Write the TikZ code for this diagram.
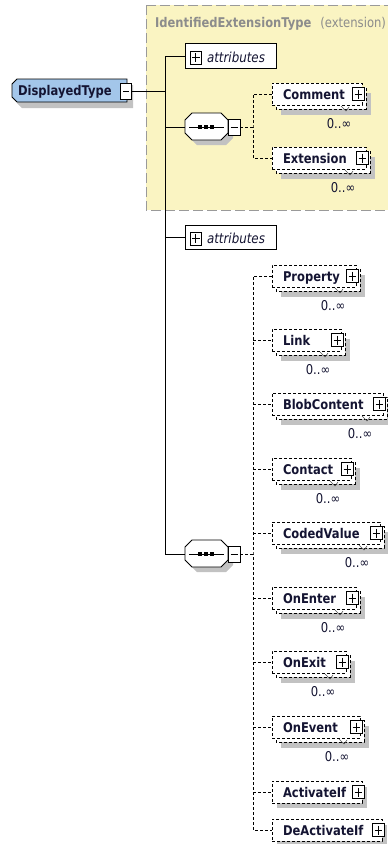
\documentclass[tikz,border=0pt]{standalone}
\usepackage{fontspec}
\setmainfont{DejaVu Sans}[FakeStretch=0.86]
\definecolor{ybg}{HTML}{FAF4C2}
\definecolor{yframe}{HTML}{9A9A9A}
\definecolor{shgray}{HTML}{C2C2C2}
\definecolor{dtblue}{HTML}{A3C6EA}
\definecolor{ink}{HTML}{141432}
\definecolor{titlegray}{HTML}{8C8C8C}
\definecolor{tickgray}{HTML}{555555}
\tikzset{
  every node/.style={inner sep=0pt, outer sep=0pt},
  ebline/.style={draw=black, fill=white, line width=0.8pt, dash pattern=on 3pt off 2pt},
  ebox/.style={ebline, rectangle, anchor=west},
  abox/.style={draw=black, fill=white, line width=0.9pt, rectangle, anchor=west},
  dconn/.style={draw=black, line width=0.8pt, dash pattern=on 3pt off 2pt},
  sconn/.style={draw=black, line width=1pt},
  ename/.style={font=\bfseries\fontsize{13.4}{15}\selectfont, text=ink, anchor=base west},
  aname/.style={font=\itshape\fontsize{13.8}{15}\selectfont, text=ink, anchor=base west},
  multlab/.style={font=\fontsize{13.5}{15}\selectfont, text=ink, anchor=base},
  pbox/.style={draw=black, fill=white, line width=0.8pt},
}
% plus box: left x, centre y
\newcommand\plusat[2]{%
  \draw[pbox] (#1,#2-6.5) rectangle (#1+11.5,#2+6.5);
  \draw[line width=0.8pt] (#1+2,#2) -- (#1+9.5,#2) (#1+5.75,#2-4.5) -- (#1+5.75,#2+4.5);
}
% element with multiplicity 0..inf : name, centre y, right edge, label
\newcommand\elemM[4]{%
  \fill[shgray] (281,#2-1) rectangle (#3+9,#2+21);
  \draw[ebline] (276,#2-7) rectangle (#3+4,#2+15);
  \node[ebox, minimum width=#3-272, minimum height=22] (#1) at (272,#2) {};
  \node[ename] at (283,#2+5) {#4};
  \plusat{#3-9.5}{#2}
  \draw[line width=0.6pt, draw=tickgray] (#3-21,#2+12) -- (#3-16,#2+17) -- (#3-13,#2+13);
  \node[multlab] at (#3-23,#2+34.5) {0..∞};
}
% single element : name, centre y, right edge, label
\newcommand\elemS[4]{%
  \fill[shgray] (277,#2-5) rectangle (#3+5,#2+16);
  \node[ebox, minimum width=#3-272, minimum height=22] (#1) at (272,#2) {};
  \node[ename] at (283,#2+5) {#4};
  \plusat{#3-9.5}{#2}
}
% sequence compositor : name, centre y
\newcommand\seqnode[2]{%
  \fill[shgray] (197,#2-9) -- (226,#2-9) -- (233,#2-2) -- (233,#2+11) -- (226,#2+18) -- (197,#2+18) -- (190,#2+11) -- (190,#2-2) -- cycle;
  \draw[line width=0.8pt, fill=white] (192,#2-14) -- (221,#2-14) -- (228,#2-7) -- (228,#2+6) -- (221,#2+13) -- (192,#2+13) -- (185,#2+6) -- (185,#2-7) -- cycle;
  \coordinate (#1) at (185,#2);
  \draw[line width=0.8pt] (189,#2) -- (224,#2);
  \fill (198.2,#2-1.8) rectangle (201.8,#2+1.8);
  \fill (204.2,#2-1.8) rectangle (207.8,#2+1.8);
  \fill (210.2,#2-1.8) rectangle (213.8,#2+1.8);
  \draw[pbox] (228,#2-8) rectangle (240,#2+8);
  \draw[line width=0.8pt] (230.5,#2) -- (237.5,#2);
  \coordinate (#1m) at (240,#2);
}
\begin{document}
\begin{tikzpicture}[x=1pt,y=-1pt]
\useasboundingbox (0,0) rectangle (388,844);
\clip (0,0) rectangle (388,844);
\fill[white] (0,0) rectangle (388,844);
% extension frame
\draw[fill=ybg, draw=yframe, line width=1pt, dash pattern=on 10pt off 4pt] (146,5) rectangle (394,210);
\node[anchor=base west, text=titlegray, font=\bfseries\fontsize{13.4}{15}\selectfont] (title) at (155,27) {IdentifiedExtensionType};
\node[anchor=base east, text=titlegray, font=\fontsize{13.5}{15}\selectfont] (titleb) at (386,27) {(extension)};
% DisplayedType
\fill[shgray] (22,85) -- (133,85) -- (133,108) -- (22,108) -- (17,103) -- (17,90) -- cycle;
\draw[line width=0.9pt, fill=dtblue] (17,79) -- (127,79) -- (127,102) -- (17,102) -- (12,97) -- (12,84) -- cycle;
\node[ename] (dt) at (18,95.5) {DisplayedType};
\draw[pbox] (120.5,83) rectangle (131.5,99.5);
\draw[line width=0.8pt] (123,91) -- (129,91);
\coordinate (dtm) at (131.5,91);
\coordinate (tk) at (165,0);
% attributes
\node[abox, minimum width=91, minimum height=25] (attr1) at (185,56) {};
\plusat{190}{57.5}
\node[aname] at (207,62) {attributes};
\node[abox, minimum width=91, minimum height=24] (attr2) at (185,237) {};
\plusat{190}{238.5}
\node[aname] at (207,243) {attributes};
% sequences
\seqnode{seq1}{127}
\seqnode{seq2}{554}
% trunk
\draw[sconn] (dtm) -- (dtm -| tk);
\draw[sconn] (attr1.west -| tk) -- (seq2 -| tk);
\draw[sconn] (attr1.west -| tk) -- (attr1.west);
\draw[sconn] (attr2.west -| tk) -- (attr2.west);
\draw[sconn] (seq1 -| tk) -- (seq1);
\draw[sconn] (seq2 -| tk) -- (seq2);
% elements group 1
\elemM{comment}{94}{362}{Comment}
\elemM{extension}{158}{366}{Extension}
\coordinate (bus1) at (253,127);
\draw[dconn] (seq1m) -- (bus1);
\draw[dconn] (comment.west) -| (bus1) |- (extension.west);
% elements group 2
\elemM{property}{276}{356}{Property}
\elemM{link}{340}{341}{Link}
\elemM{blob}{404}{383}{BlobContent}
\elemM{contact}{469}{351}{Contact}
\elemM{coded}{533}{380}{CodedValue}
\elemM{onenter}{598}{356}{OnEnter}
\elemM{onexit}{662}{346}{OnExit}
\elemM{onevent}{727}{360}{OnEvent}
\elemS{activate}{792}{362}{ActivateIf}
\elemS{deactivate}{830}{382}{DeActivateIf}
\coordinate (bus2) at (253,554);
\draw[dconn] (seq2m) -- (bus2);
\draw[dconn] (property.west) -| (bus2) |- (deactivate.west);
\foreach \e in {link,blob,contact,coded,onenter,onexit,onevent,activate}
  \draw[dconn] (bus2 |- \e.west) -- (\e.west);
\end{tikzpicture}
\end{document}
